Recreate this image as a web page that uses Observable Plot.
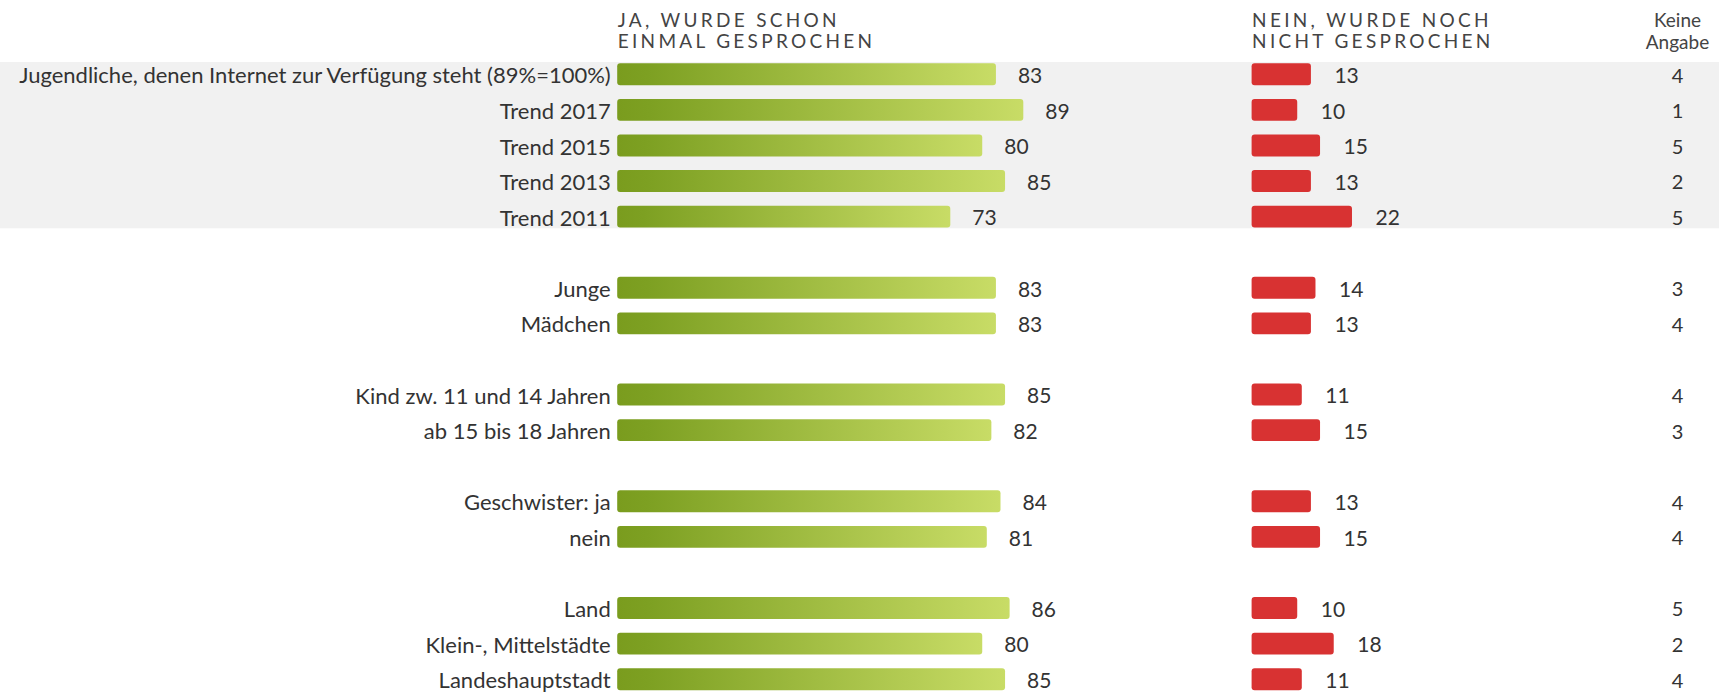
<!DOCTYPE html>
<html><head><meta charset="utf-8">
<script src="https://cdn.jsdelivr.net/npm/d3@7"></script>
<script src="https://cdn.jsdelivr.net/npm/@observablehq/plot@0.6"></script>
<style>
body{margin:0;background:#fff;}
#chart{display:flex;width:1719px;height:692px;font-family:Lato,sans-serif;}
#chart svg{display:block;overflow:visible;}
</style></head><body><div id="chart"></div>
<script>
// ---- data ----
const rows = [
  "Jugendliche, denen Internet zur Verfügung steht (89%=100%)",
  "Trend 2017", "Trend 2015", "Trend 2013", "Trend 2011",
  "Junge", "Mädchen",
  "Kind zw. 11 und 14 Jahren", "ab 15 bis 18 Jahren",
  "Geschwister: ja", "nein",
  "Land", "Klein-, Mittelstädte", "Landeshauptstadt"
];
const jaValues    = [83, 89, 80, 85, 73, 83, 83, 85, 82, 84, 81, 86, 80, 85];
const neinValues  = [13, 10, 15, 13, 22, 14, 13, 11, 15, 13, 15, 10, 18, 11];
const keineValues = [ 4,  1,  5,  2,  5,  3,  4,  4,  3,  4,  4,  5,  2,  4];
const groupSizes  = [5, 2, 2, 2, 3];
const headerJa    = "JA, WURDE SCHON\nEINMAL GESPROCHEN";
const headerNein  = "NEIN, WURDE NOCH\nNICHT GESPROCHEN";
const headerKeine = "Keine\nAngabe";

// ---- build ----
const table = rows.map((label, i) => ({label, ja: jaValues[i], nein: neinValues[i], keine: keineValues[i]}));
const domain = [];
let k = 0;
groupSizes.forEach((n, g) => {
  if (g > 0) domain.push("__gap" + g);
  for (let j = 0; j < n; j++) domain.push(rows[k++]);
});
const trend = table.slice(0, groupSizes[0]);

const GRAY = "#f1f1f1";
const TXT = "#333333";
const yScale = {type: "band", domain, range: [56.5, 697], paddingInner: 0.382, paddingOuter: 0.191, align: 0.5, round: false, axis: null};

function bgMarks() {
  return [
    Plot.cell(trend.slice(0, 1), {y: "label", fill: GRAY, insetTop: -1.3, insetBottom: -7}),
    Plot.cell(trend.slice(1, trend.length - 1), {y: "label", fill: GRAY, insetTop: -7, insetBottom: -7}),
    Plot.cell(trend.slice(trend.length - 1), {y: "label", fill: GRAY, insetTop: -7, insetBottom: -0.7})
  ];
}

const common = {height: 692, marginTop: 0, marginBottom: 0, marginLeft: 0, marginRight: 0,
  style: {fontFamily: "Lato, sans-serif", background: "transparent", color: TXT}};

// Plot A: labels + green bars
const plotA = Plot.plot({
  ...common, width: 1140,
  x: {domain: [0, 100], range: [617.2, 1073.5], axis: null},
  y: yScale,
  marks: [
    ...bgMarks(),
    Plot.barX(table, {y: "label", x: "ja", fill: "url(#gradGreen)", rx: 3}),
    Plot.text(table, {y: "label", x: d => 0, text: "label", textAnchor: "end", dx: -7, dy: 1.5, fontSize: 22, fill: TXT}),
    Plot.text(table, {y: "label", x: "ja", text: d => String(d.ja), textAnchor: "start", dx: 21.5, dy: 1.5, fontSize: 21, fill: TXT}),
    Plot.text([headerJa], {x: d => 0, text: d => d, frameAnchor: "top", lineAnchor: "top", textAnchor: "start", dy: 12, lineHeight: 1.09, fontSize: 19, fill: "#444"})
  ]
});
const defs = d3.select(plotA).insert("defs", ":first-child");
const grad = defs.append("linearGradient").attr("id", "gradGreen").attr("x1", 0).attr("x2", 1).attr("y1", 0).attr("y2", 0);
grad.append("stop").attr("offset", "0%").attr("stop-color", "#7a9c1e");
grad.append("stop").attr("offset", "8%").attr("stop-color", "#7da022");
grad.append("stop").attr("offset", "100%").attr("stop-color", "#c8dc66");

// Plot B: red bars
const plotB = Plot.plot({
  ...common, width: 495,
  x: {domain: [0, 100], range: [111.6, 567.9], axis: null},
  y: yScale,
  marks: [
    ...bgMarks(),
    Plot.barX(table, {y: "label", x: "nein", fill: "#d83232", rx: 3}),
    Plot.text(table, {y: "label", x: "nein", text: d => String(d.nein), textAnchor: "start", dx: 23, dy: 1.5, fontSize: 21, fill: TXT}),
    Plot.text([headerNein], {x: d => 0, text: d => d, frameAnchor: "top", lineAnchor: "top", textAnchor: "start", dy: 12, lineHeight: 1.09, fontSize: 19, fill: "#444"})
  ]
});

// tracked (letter-spaced) column headers
for (const p of [plotA, plotB]) {
  d3.select(p).selectAll("text").filter(function () { return this.querySelector("tspan") !== null; })
    .style("letter-spacing", "3.3px");
}

// Plot C: keine Angabe
const plotC = Plot.plot({
  ...common, width: 84,
  y: yScale,
  marks: [
    ...bgMarks(),
    Plot.text(table, {y: "label", text: d => String(d.keine), frameAnchor: "middle", textAnchor: "middle", dy: 1.5, fontSize: 20, fill: TXT}),
    Plot.text([headerKeine], {text: d => d, frameAnchor: "top", lineAnchor: "top", textAnchor: "middle", dy: 10.5, lineHeight: 1.18, fontSize: 19, fill: "#444"})
  ]
});

const chart = document.getElementById("chart");
chart.append(plotA, plotB, plotC);
</script>
</body></html>
